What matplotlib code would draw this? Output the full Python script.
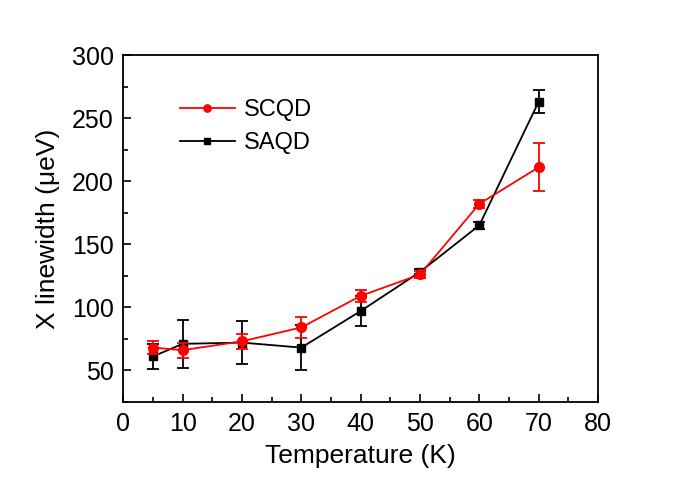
import numpy as np
import matplotlib.pyplot as plt
from matplotlib.ticker import MultipleLocator

plt.rcParams['font.family'] = ['Liberation Sans', 'DejaVu Sans']

temp = [5, 10, 20, 30, 40, 50, 60, 70]
scqd = [68, 66, 73, 84, 109, 126, 182, 211]
scqd_err = [5, 6, 6, 8, 5, 3, 3, 19]
saqd = [61, 71, 72, 68, 97, 128, 165, 263]
saqd_err = [10, 19, 17, 18, 12, 2, 3, 9]

fig = plt.figure(figsize=(6.85, 4.83), dpi=100)
ax = fig.add_axes([0.18, 0.168, 0.693, 0.718])

ax.errorbar(temp, scqd, yerr=scqd_err, color='red', marker='o', ms=7,
            lw=1.3, capsize=4, elinewidth=1.3, capthick=1.3, label='SCQD', zorder=3)
ax.errorbar(temp, saqd, yerr=saqd_err, color='black', marker='s', ms=6,
            lw=1.3, capsize=4, elinewidth=1.3, capthick=1.3, label='SAQD', zorder=2)

ax.set_xlim(0, 80)
ax.set_ylim(25, 300)
ax.xaxis.set_major_locator(MultipleLocator(10))
ax.xaxis.set_minor_locator(MultipleLocator(5))
ax.yaxis.set_major_locator(MultipleLocator(50))
ax.yaxis.set_minor_locator(MultipleLocator(25))
ax.tick_params(which='both', direction='in', top=False, right=False, labelsize=18)
ax.tick_params(which='major', length=6, width=1.2, pad=7)
ax.tick_params(which='minor', length=3.5, width=1.2)
for s in ax.spines.values():
    s.set_linewidth(1.3)

ax.set_xlabel('Temperature (K)', fontsize=19, labelpad=6)
ax.set_ylabel('X linewidth (μeV)', fontsize=19, labelpad=8)

h, l = ax.get_legend_handles_labels()
ax.legend([x[0] for x in h], l, loc='upper left', bbox_to_anchor=(0.1, 0.9),
          frameon=False, fontsize=17, handlelength=2.3, labelspacing=0.45,
          handletextpad=0.4, markerscale=0.75, borderaxespad=0)

fig.savefig('out.png', dpi=100)
